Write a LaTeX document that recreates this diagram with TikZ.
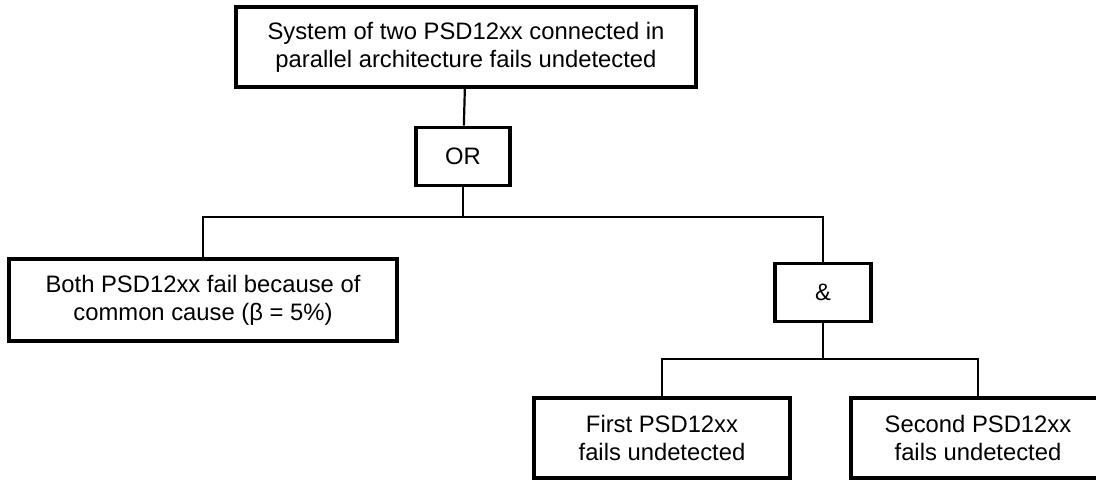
\documentclass[tikz,border=0pt]{standalone}
\usepackage{fontspec}
\setmainfont{Liberation Sans}

\begin{document}
\begin{tikzpicture}[x=1pt, y=-1pt,
	every node/.style = {shape=rectangle, draw, line width=3.8pt,
		align=center, inner sep=0pt,
		font=\fontsize{23.8}{28}\selectfont},
	gate/.style = {minimum width=94pt, minimum height=58pt},
	event/.style = {minimum height=80pt},
	link/.style = {line width=2.2pt}]
	\useasboundingbox (0,0) rectangle (1096,483);
	\node[event, minimum width=460pt] (system) at (466,47)
		{System of two PSD12xx connected in\\parallel architecture fails undetected};
	\node[gate] (or) at (463,156.5) {OR};
	\node[event, minimum width=388pt, minimum height=82pt] (common) at (203,300)
		{Both PSD12xx fail because of\\common cause (β = 5\%)};
	\node[gate, minimum width=96pt] (and) at (823,292.5) {\&};
	\node[event, minimum width=256pt] (first) at (662,438)
		{First PSD12xx\\fails undetected};
	\node[event, minimum width=254pt] (second) at (978,438)
		{Second PSD12xx\\fails undetected};
	% junctions
	\coordinate (orjoin) at (463,217);
	\coordinate (andjoin) at (823,359);
	\draw[link] (system) -- (or);
	\draw[link] (or) -- (orjoin);
	\draw[link] (common.north) |- (orjoin) -| (and.north);
	\draw[link] (and) -- (andjoin);
	\draw[link] (first.north) |- (andjoin) -| (second.north);
\end{tikzpicture}
\end{document}
